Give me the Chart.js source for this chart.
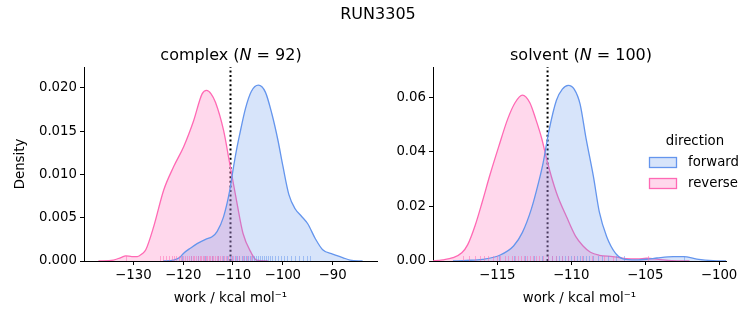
<!DOCTYPE html>
<html>
<head>
<meta charset="utf-8">
<script src="https://cdn.jsdelivr.net/npm/chart.js@4.4.1/dist/chart.umd.min.js"></script>
<style>
body { margin: 0; background: #fff; font-family: 'DejaVu Sans', sans-serif; }
#fig { position: relative; width: 753px; height: 325px; }
canvas { position: absolute; top: 0; }
.ttl { position: absolute; transform: translate(-50%, -50%); font-size: 16px; white-space: nowrap; color: #000; }
</style>
</head>
<body>
<div id="fig">
	<canvas id="complex" width="390" height="325" style="left:0"></canvas>
	<canvas id="solvent" width="363" height="325" style="left:390px"></canvas>
	<div class="ttl" style="left:378px;top:13px">RUN3305</div>
	<div class="ttl" style="left:231px;top:54px">complex (<i>N</i> = 92)</div>
	<div class="ttl" style="left:581px;top:54px">solvent (<i>N</i> = 100)</div>
</div>
<script>
const directions = ['forward', 'reverse'];
const lineColors = ['#6495ED', '#FF69B4'];
const fillColors = ['rgba(100,149,237,0.26)', 'rgba(255,105,180,0.26)'];
const rugColors = ['rgba(100,149,237,0.5)', 'rgba(255,105,180,0.5)'];

// complex phase, KDE
const complexForwardX = [-124, -122, -120.7, -119.9, -118.5, -117.2, -115.5, -114.2, -113.2, -111.9, -110.7, -110, -109.3, -108.7, -107.5, -106.3, -104.9, -103.5, -102.2, -101, -100, -98.8, -97.5, -96.3, -95, -93.5, -92, -90, -88, -86.5, -84];
const complexForwardY = [0, 0.0001, 0.0004, 0.0009, 0.0015, 0.0020, 0.0025, 0.0028, 0.0034, 0.0051, 0.0080, 0.0105, 0.0128, 0.0145, 0.0176, 0.0196, 0.0203, 0.0195, 0.0170, 0.0140, 0.0110, 0.0077, 0.0060, 0.0052, 0.0043, 0.0026, 0.0013, 0.0008, 0.0004, 0.0001, 0];
const complexReverseX = [-137, -134, -132.5, -131.5, -130.3, -129.2, -128.3, -127.5, -125.9, -123.9, -121.9, -119.9, -117.9, -116.2, -115.3, -114.4, -113.5, -111.9, -110.7, -109.3, -108, -106.3, -105.3, -103];
const complexReverseY = [0, 0.0001, 0.0004, 0.0006, 0.0005, 0.0005, 0.0008, 0.0013, 0.0040, 0.0082, 0.0109, 0.0132, 0.0162, 0.0193, 0.0197, 0.0193, 0.0183, 0.0151, 0.0114, 0.0070, 0.0032, 0.0009, 0.0001, 0];
const complexRugForward = [-120.3, -118.5, -117.0, -115.6, -114.2, -113.1, -112.0, -111.2, -110.6, -110.1, -109.6, -109.1, -108.7, -108.2, -107.8, -107.4, -107.0, -106.6, -106.2, -105.8, -105.4, -105.0, -104.6, -104.2, -103.8, -103.4, -103.0, -102.6, -102.1, -101.6, -101.0, -100.4, -99.8, -99.1, -98.4, -97.6, -96.8, -96.0, -95.2, -94.5];
const complexRugReverse = [-131.5, -124.6, -124.1, -123.5, -122.8, -122.3, -121.9, -121.4, -120.8, -120.5, -120.1, -119.6, -119.2, -118.9, -118.5, -118.1, -117.8, -117.4, -117.0, -116.7, -116.4, -116.1, -115.8, -115.5, -115.2, -114.9, -114.6, -114.3, -114.0, -113.7, -113.3, -113.0, -112.6, -112.2, -111.8, -111.4, -111.0, -110.5, -110.0, -109.4, -108.7, -108.0, -107.2, -106.3];
const complexCutoff = -110.5;
const complexXRange = [-139.9, -81.1];
const complexYMax = 0.0224;
const complexXTicks = [-130, -120, -110, -100, -90];
const complexYTicks = [0, 0.005, 0.010, 0.015, 0.020];

// solvent phase
const solventForwardX = [-118, -117.1, -116, -114.8, -113.9, -113.3, -112.7, -112.2, -111.9, -111.5, -111, -110.6, -110.2, -109.8, -109.4, -109, -108.5, -108.1, -107.6, -107, -106.5, -105.6, -104.8, -104.2, -103.1, -102.4, -101.5, -100.4, -99.5];
const solventForwardY = [0, 0.0002, 0.0006, 0.0022, 0.0055, 0.0105, 0.0190, 0.0290, 0.0360, 0.0479, 0.0589, 0.0630, 0.0644, 0.0630, 0.0575, 0.0450, 0.0310, 0.0180, 0.0089, 0.0028, 0.0008, 0.0004, 0.0007, 0.0011, 0.0016, 0.0016, 0.0007, 0.0001, 0];
const solventReverseX = [-119.5, -118.7, -118, -117.4, -117.0, -116.5, -116.0, -115.5, -114.9, -114.3, -113.8, -113.3, -112.8, -112.4, -112.0, -111.6, -111.0, -110.3, -109.7, -109.2, -108.7, -108.1, -107.2, -106.3, -105.5, -104.9, -104.1, -103.2, -102];
const solventReverseY = [0, 0.0004, 0.0012, 0.0030, 0.0060, 0.0130, 0.0220, 0.0315, 0.0420, 0.0520, 0.0580, 0.0608, 0.0580, 0.0520, 0.0450, 0.0360, 0.0250, 0.0160, 0.0090, 0.0055, 0.0032, 0.0021, 0.0016, 0.0009, 0.0008, 0.0010, 0.0006, 0.0001, 0];
const solventRugForward = [-114.9, -113.9, -113.1, -112.5, -112.0, -111.6, -111.3, -111.0, -110.8, -110.6, -110.4, -110.2, -110.0, -109.8, -109.6, -109.4, -109.2, -109.0, -108.8, -108.5, -108.2, -107.9, -107.5, -107.0, -106.4, -102.4];
const solventRugReverse = [-117.3, -116.9, -116.5, -116.2, -115.9, -115.6, -115.3, -115.0, -114.8, -114.5, -114.3, -114.0, -113.8, -113.6, -113.4, -113.2, -113.0, -112.8, -112.6, -112.4, -112.2, -111.9, -111.6, -111.3, -111.0, -110.6, -110.2, -109.8, -109.3, -108.6, -107.8, -107.2, -104.8];
const solventCutoff = -111.6;
const solventXRange = [-119.35, -99.53];
const solventYMax = 0.0711;
const solventXTicks = [-115, -110, -105, -100];
const solventYTicks = [0, 0.02, 0.04, 0.06];

Chart.defaults.font.family = "'DejaVu Sans', sans-serif";
Chart.defaults.font.size = 13.3;
Chart.defaults.color = '#000';

function toPoints(xs, ys) {
	return xs.map((x, i) => ({ x: x, y: ys[i] }));
}

function minusSign(v) {
	return String(v).replace('-', '\u2212');
}

// short ticks along the bottom, one per sample
const rugPlugin = {
	id: 'rug',
	afterDatasetsDraw(chart, args, opts) {
		const { ctx, chartArea: { bottom }, scales: { x } } = chart;
		ctx.save();
		ctx.lineWidth = 1;
		opts.series.forEach(s => {
			ctx.strokeStyle = s.color;
			s.values.forEach(v => {
				const px = Math.round(x.getPixelForValue(v)) + 0.5;
				ctx.beginPath();
				ctx.moveTo(px, bottom);
				ctx.lineTo(px, bottom - 5);
				ctx.stroke();
			});
		});
		ctx.restore();
	}
};

// legend placed like seaborn's, outside the axes flow
const sideLegend = {
	id: 'sideLegend',
	afterDraw(chart, args, opts) {
		if (!opts.show) return;
		const ctx = chart.ctx;
		ctx.save();
		ctx.font = "13.3px 'DejaVu Sans'";
		ctx.fillStyle = '#000';
		ctx.textBaseline = 'middle';
		ctx.textAlign = 'center';
		ctx.fillText(opts.title, opts.titleX, opts.titleY);
		ctx.textAlign = 'left';
		directions.forEach((d, i) => {
			const y = opts.top + i * opts.rowGap;
			ctx.fillStyle = fillColors[i];
			ctx.fillRect(opts.boxX, y, 27, 10);
			ctx.strokeStyle = lineColors[i];
			ctx.lineWidth = 1.3;
			ctx.strokeRect(opts.boxX + 0.5, y + 0.5, 27, 10);
			ctx.fillStyle = '#000';
			ctx.fillText(d, opts.textX, y + 5.5);
		});
		ctx.restore();
	}
};

function kdeChart(id, curves, rugs, cutoff, xRange, yMax, xTicks, yTicks, yDigits, yTitle, yWidth, padRight, legend) {
	const datasets = curves.map((pts, i) => ({
		label: directions[i],
		data: pts,
		borderColor: lineColors[i],
		backgroundColor: fillColors[i],
		borderWidth: 1.3,
		fill: 'origin',
		pointRadius: 0,
		cubicInterpolationMode: 'monotone'
	}));
	datasets.push({
		label: 'cutoff',
		data: [{ x: cutoff, y: 0 }, { x: cutoff, y: yMax }],
		borderColor: '#000',
		borderWidth: 2,
		borderDash: [2, 2.6],
		pointRadius: 0,
		fill: false
	});

	return new Chart(document.getElementById(id), {
		type: 'line',
		data: { datasets: datasets },
		options: {
			responsive: false,
			animation: false,
			layout: { padding: { left: 0, right: padRight, top: 67, bottom: 0 } },
			plugins: {
				legend: { display: false },
				tooltip: { enabled: false },
				rug: {
					series: rugs.map((r, i) => ({ values: r, color: rugColors[i] }))
				},
				sideLegend: legend
			},
			scales: {
				x: {
					type: 'linear',
					min: xRange[0],
					max: xRange[1],
					afterBuildTicks: s => { s.ticks = xTicks.map(v => ({ value: v })); },
					afterFit: s => { s.height = 64; },
					ticks: { callback: v => minusSign(v), padding: 3, maxRotation: 0, autoSkip: false },
					grid: { drawOnChartArea: false, color: '#000', tickLength: 4 },
					border: { color: '#000', width: 1 },
					title: { display: true, text: 'work / kcal mol\u207B\u00B9', padding: { top: 0, bottom: 18 } }
				},
				y: {
					min: 0,
					max: yMax,
					afterBuildTicks: s => { s.ticks = yTicks.map(v => ({ value: v })); },
					afterFit: s => { s.width = yWidth; },
					ticks: { callback: v => v.toFixed(yDigits), padding: 3 },
					grid: { drawOnChartArea: false, color: '#000', tickLength: 4 },
					border: { color: '#000', width: 1 },
					title: { display: yTitle !== '', text: yTitle, padding: { top: 13, bottom: 0 } }
				}
			}
		},
		plugins: [rugPlugin, sideLegend]
	});
}

kdeChart('complex',
	[toPoints(complexForwardX, complexForwardY), toPoints(complexReverseX, complexReverseY)],
	[complexRugForward, complexRugReverse],
	complexCutoff, complexXRange, complexYMax, complexXTicks, complexYTicks, 3, 'Density', 84, 13,
	{ show: false });

kdeChart('solvent',
	[toPoints(solventForwardX, solventForwardY), toPoints(solventReverseX, solventReverseY)],
	[solventRugForward, solventRugReverse],
	solventCutoff, solventXRange, solventYMax, solventXTicks, solventYTicks, 2, '', 43, 27,
	{ show: true, title: 'direction', titleX: 305, titleY: 142, boxX: 259, top: 157, rowGap: 21, textX: 298 });
</script>
</body>
</html>
